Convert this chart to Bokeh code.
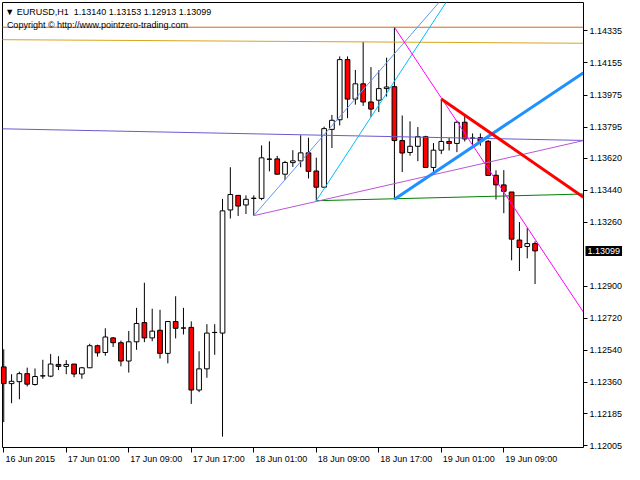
from bokeh.plotting import figure
from bokeh.models import Range1d, FixedTicker, PrintfTickFormatter, Label, ColumnDataSource
from bokeh.embed import file_html
from bokeh.resources import INLINE

# ---------------- data ----------------
symbol_text = "\u25BC EURUSD,H1\u00a0\u00a01.13140 1.13153 1.12913 1.13099"
copyright_text = "Copyright \u00a9 http://www.pointzero-trading.com"
last_price = 1.13099

time_tick_bars = [0, 8, 16, 24, 32, 40, 48, 56, 64]
time_tick_labels = ["16 Jun 2015", "17 Jun 01:00", "17 Jun 09:00", "17 Jun 17:00",
                    "18 Jun 01:00", "18 Jun 09:00", "18 Jun 17:00", "19 Jun 01:00",
                    "19 Jun 09:00"]
price_ticks = [1.12005, 1.12185, 1.12360, 1.12540, 1.12720, 1.12900, 1.13260,
               1.13440, 1.13620, 1.13795, 1.13975, 1.14155, 1.14335]

opens = [1.12447, 1.12353, 1.12364, 1.12409, 1.12348, 1.12396, 1.12395, 1.12461, 1.12450, 1.12463,
         1.12407, 1.12442, 1.12566, 1.12528, 1.12610, 1.12583, 1.12480, 1.12588, 1.12696, 1.12610,
         1.12653, 1.12523, 1.12702, 1.12665, 1.12669, 1.12317, 1.12436, 1.12640, 1.12637, 1.13329,
         1.13411, 1.13357, 1.13394, 1.13394, 1.13614, 1.13616, 1.13530, 1.13595, 1.13605, 1.13650,
         1.13548, 1.13457, 1.13782, 1.13836, 1.14174, 1.13952, 1.14038, 1.13936, 1.13946, 1.14011,
         1.14022, 1.13719, 1.13652, 1.13687, 1.13741, 1.13568, 1.13665, 1.13714, 1.13703, 1.13822,
         1.13732, 1.13735, 1.13715, 1.13524, 1.13470, 1.13430, 1.13160, 1.13124, 1.13140]
highs = [1.12546, 1.12406, 1.12420, 1.12443, 1.12438, 1.12487, 1.12519, 1.12507, 1.12485, 1.12463,
         1.12447, 1.12577, 1.12572, 1.12664, 1.12615, 1.12595, 1.12649, 1.12779, 1.12920, 1.12774,
         1.12768, 1.12702, 1.12844, 1.12779, 1.12703, 1.12535, 1.12687, 1.12687, 1.13391, 1.13569,
         1.13411, 1.13411, 1.13411, 1.13692, 1.13715, 1.13633, 1.13605, 1.13665, 1.13749, 1.13735,
         1.13623, 1.13797, 1.13863, 1.14192, 1.14192, 1.14116, 1.14274, 1.14132, 1.14114, 1.14185,
         1.14356, 1.13860, 1.13827, 1.13795, 1.13746, 1.13705, 1.13953, 1.13733, 1.13831, 1.13862,
         1.13759, 1.13759, 1.13722, 1.13552, 1.13553, 1.13430, 1.13261, 1.13228, 1.13153]
lows = [1.12137, 1.12243, 1.12265, 1.12337, 1.12342, 1.12380, 1.12389, 1.12429, 1.12406, 1.12389,
        1.12380, 1.12442, 1.12505, 1.12510, 1.12559, 1.12450, 1.12415, 1.12543, 1.12586, 1.12591,
        1.12494, 1.12467, 1.12607, 1.12629, 1.12239, 1.12305, 1.12386, 1.12515, 1.12055, 1.13281,
        1.13295, 1.13306, 1.13297, 1.13384, 1.13546, 1.13530, 1.13497, 1.13571, 1.13569, 1.13506,
        1.13381, 1.13452, 1.13677, 1.13804, 1.13845, 1.13921, 1.13914, 1.13852, 1.13879, 1.13966,
        1.13389, 1.13542, 1.13634, 1.13603, 1.13568, 1.13530, 1.13643, 1.13663, 1.13654, 1.13714,
        1.13692, 1.13690, 1.13522, 1.13388, 1.13311, 1.13046, 1.12986, 1.13057, 1.12913]
closes = [1.12353, 1.12366, 1.12409, 1.12350, 1.12393, 1.12397, 1.12463, 1.12450, 1.12461, 1.12407,
          1.12442, 1.12566, 1.12526, 1.12615, 1.12583, 1.12480, 1.12588, 1.12691, 1.12610, 1.12648,
          1.12523, 1.12702, 1.12664, 1.12666, 1.12317, 1.12436, 1.12637, 1.12641, 1.13324, 1.13416,
          1.13351, 1.13389, 1.13395, 1.13622, 1.13615, 1.13530, 1.13596, 1.13605, 1.13650, 1.13546,
          1.13457, 1.13786, 1.13833, 1.14174, 1.13952, 1.14038, 1.13936, 1.13896, 1.14011, 1.14020,
          1.13719, 1.13649, 1.13687, 1.13741, 1.13568, 1.13665, 1.13714, 1.13703, 1.13822, 1.13728,
          1.13733, 1.13714, 1.13523, 1.13470, 1.13434, 1.13165, 1.13118, 1.13140, 1.13099]

# chart objects (anchor bar, anchor price)
resistance_price = 1.14356
gold_bars, gold_prices = [0, 74], [1.14286, 1.14266]
purple_bars, purple_prices = [0, 74], [1.13785, 1.13720]
green_bars, green_prices = [40, 50], [1.13381, 1.13392]
violet_bars, violet_prices = [32, 40], [1.13297, 1.13377]
cornflower_bars, cornflower_prices = [32, 48], [1.13297, 1.14106]
cyan_bars, cyan_prices = [40, 48], [1.13381, 1.13918]
dodger_bars, dodger_prices = [50, 55], [1.13389, 1.13536]
red_bars, red_prices = [56, 59], [1.13953, 1.13862]
magenta_bars, magenta_prices = [50, 60], [1.14356, 1.13694]

# ---------------- layout ----------------
CANVAS_W, CANVAS_H = 624, 464
CHART_LEFT_PX, CHART_RIGHT_PX = 2, 583      # chart box inside the canvas
CHART_TOP_PX, CHART_BOTTOM_PX = 2, 447
X_START, X_END = -0.16, 74.2                # visible bars
Y_START, Y_END = 1.11994, 1.14495           # visible prices
FONT = "Liberation Sans"
NBSP = "\u00a0"

kx = (X_END - X_START) / (CHART_RIGHT_PX - CHART_LEFT_PX)
ky = (Y_END - Y_START) / (CHART_BOTTOM_PX - CHART_TOP_PX)
x_range = Range1d(X_START - CHART_LEFT_PX * kx, X_START + (CANVAS_W - CHART_LEFT_PX) * kx)
y_range = Range1d(Y_START - (CANVAS_H - CHART_BOTTOM_PX) * ky, Y_END + CHART_TOP_PX * ky)

p = figure(width=CANVAS_W, height=CANVAS_H, x_range=x_range, y_range=y_range,
           y_axis_location="right", output_backend="svg", toolbar_location=None,
           min_border_left=0, min_border_top=0, min_border_right=0, min_border_bottom=0)
p.grid.visible = False
p.background_fill_color = "white"
p.border_fill_color = "white"
p.outline_line_color = None

# price scale, drawn at the right edge of the chart box
ya = p.yaxis[0]
ya.fixed_location = X_END
ya.bounds = (Y_START, Y_END)
ya.ticker = FixedTicker(ticks=price_ticks)
ya.formatter = PrintfTickFormatter(format="%.5f")
ya.major_tick_out = 4
ya.major_tick_in = 0
ya.minor_tick_out = 0
ya.minor_tick_in = 0
ya.major_label_standoff = 2
ya.major_label_text_font = FONT
ya.major_label_text_font_size = "9px"
ya.major_label_text_color = "black"
ya.axis_line_color = "black"

# time scale, drawn at the bottom edge; MT4 labels start at their tick
xa = p.xaxis[0]
xa.fixed_location = Y_START
xa.bounds = (X_START, X_END)
xa.ticker = FixedTicker(ticks=time_tick_bars)
lead = [2] + [22] * (len(time_tick_labels) - 1)
xa.major_label_overrides = {b: NBSP * n + l for b, l, n in zip(time_tick_bars, time_tick_labels, lead)}
xa.major_tick_out = 5
xa.major_tick_in = 0
xa.minor_tick_out = 0
xa.minor_tick_in = 0
xa.major_label_standoff = 1
xa.major_label_text_font = FONT
xa.major_label_text_font_size = "9px"
xa.major_label_text_color = "black"
xa.axis_line_color = "black"

# left and top edges of the chart box
p.line([X_START, X_START, X_END], [Y_START, Y_END, Y_END], line_color="black", line_width=1)

# ---------------- candles ----------------
idx = list(range(len(opens)))
up = [c >= o for o, c in zip(opens, closes)]
src = ColumnDataSource(dict(
    x=idx, o=opens, h=highs, l=lows, c=closes,
    top=[max(o, c) for o, c in zip(opens, closes)],
    bottom=[min(o, c) for o, c in zip(opens, closes)],
    fill=["white" if u else "#FF0000" for u in up],
))
p.segment(x0="x", y0="l", x1="x", y1="h", source=src, line_color="black", line_width=1)
p.vbar(x="x", top="top", bottom="bottom", width=0.6, source=src,
       fill_color="fill", line_color="black", line_width=1)


# ---------------- objects ----------------
def through(bars, prices, x_from, x_to):
    slope = (prices[1] - prices[0]) / (bars[1] - bars[0])
    return ([x_from, x_to],
            [prices[0] + slope * (x_from - bars[0]), prices[0] + slope * (x_to - bars[0])])


p.line([X_START, X_END], [resistance_price, resistance_price], line_color="#D2691E", line_width=1)
xs, ys = through(gold_bars, gold_prices, X_START, X_END)
p.line(xs, ys, line_color="#DAA520", line_width=1)
xs, ys = through(purple_bars, purple_prices, X_START, X_END)
p.line(xs, ys, line_color="#6A5ACD", line_width=1)

rays = [
    (green_bars, green_prices, "#008000", 1),
    (violet_bars, violet_prices, "#BA55D3", 1),
    (cornflower_bars, cornflower_prices, "#6495ED", 1),
    (cyan_bars, cyan_prices, "#00BFFF", 1),
    (magenta_bars, magenta_prices, "#FF00FF", 1),
    (dodger_bars, dodger_prices, "#1E90FF", 3),
    (red_bars, red_prices, "#FF0000", 3),
]
for bars, prices, color, w in rays:
    x_to = X_END
    slope = (prices[1] - prices[0]) / (bars[1] - bars[0])
    if prices[0] + slope * (X_END - bars[0]) > Y_END:      # stop at the top edge
        x_to = bars[0] + (Y_END - prices[0]) / slope
    xs, ys = through(bars, prices, bars[0], x_to)
    p.line(xs, ys, line_color=color, line_width=w)

# ---------------- texts ----------------
p.add_layout(Label(x=0.2, y=1.14441, text=symbol_text, text_font=FONT,
                   text_font_size="9px", text_color="black", text_baseline="middle"))
p.add_layout(Label(x=0.4, y=1.14370, text=copyright_text, text_font=FONT,
                   text_font_size="9px", text_color="black", text_baseline="middle"))
p.add_layout(Label(x=X_END, y=last_price, x_offset=2, text="1.13099", text_font=FONT,
                   text_font_size="9px", text_color="white", text_baseline="middle",
                   background_fill_color="black", padding=2))

open("out.html", "w").write(file_html(p, INLINE))
